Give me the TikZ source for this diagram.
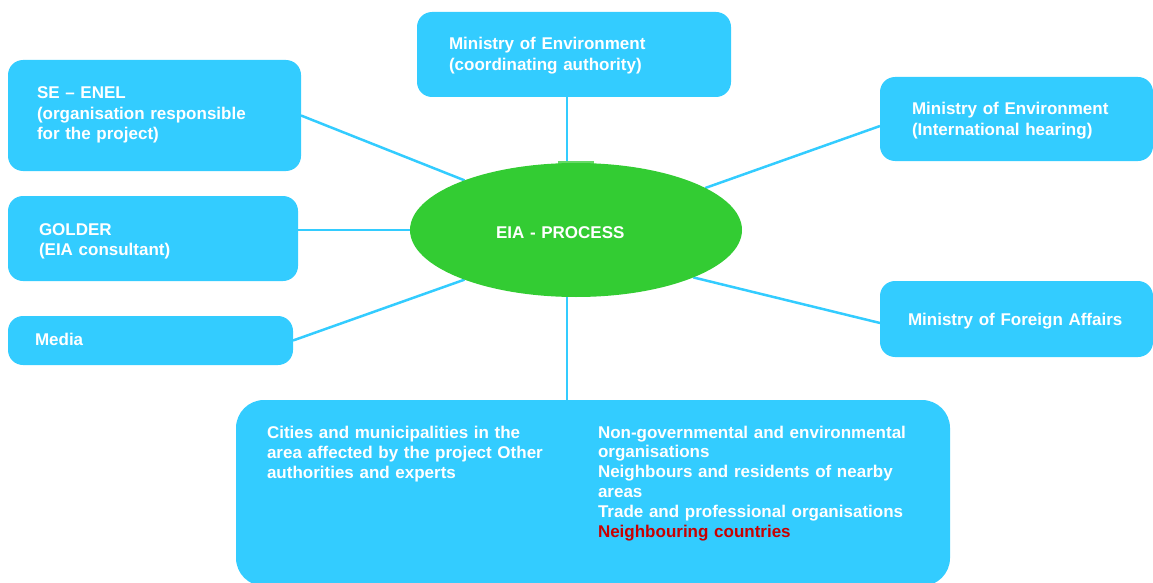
\documentclass[tikz,border=0pt]{standalone}
\usepackage{fontspec}
\setmainfont{Liberation Sans}
\usetikzlibrary{shapes.geometric,backgrounds,calc}
\definecolor{boxblue}{HTML}{33CCFF}
\definecolor{ellgreen}{HTML}{33CC33}
\definecolor{tabgreen}{HTML}{66D966}
\definecolor{txtred}{HTML}{C80000}
\tikzset{
  box/.style={fill=boxblue, draw=none, rounded corners=15pt, inner sep=0pt, outer sep=0pt, anchor=north west},
  lbl/.style={text=white, anchor=base west, inner sep=0pt, outer sep=0pt, text width=400pt, align=left,
    font=\fontsize{17}{20.5}\selectfont\bfseries},
  conn/.style={draw=boxblue, line width=2.5pt},
}
\begin{document}
\begin{tikzpicture}[x=1pt,y=-1pt]
\useasboundingbox (0,0) rectangle (1153,583);
% boxes
\node[box, minimum width=314pt, minimum height=85pt] (top) at (417,12) {};
\node[box, minimum width=293pt, minimum height=111pt] (seenel) at (8,60) {};
\node[box, minimum width=290pt, minimum height=85pt] (golder) at (8,196) {};
\node[box, minimum width=285pt, minimum height=49pt] (media) at (8,316) {};
\node[box, minimum width=273pt, minimum height=84pt] (inthear) at (880,77) {};
\node[box, minimum width=273pt, minimum height=76pt] (foreign) at (880,281) {};
\node[box, rounded corners=28pt, minimum width=714pt, minimum height=186pt] (bottom) at (236,400) {};
% centre
\node[fill=tabgreen, inner sep=0pt, minimum width=36pt, minimum height=6pt] (tab) at (576,164) {};
\node[ellipse, fill=ellgreen, inner sep=0pt, outer sep=0pt, minimum width=332pt, minimum height=134pt] (ell) at (576,230) {};
% connectors
\begin{pgfonlayer}{background}
\draw[conn] ([xshift=-7pt]top.south) -- ([xshift=-7pt]top.south |- ell.north);
\draw[conn] (seenel.east) -- (ell.156);
\draw[conn] (golder.east |- ell.center) -- (ell.center);
\draw[conn] (media.east) -- (ell.204);
\draw[conn] ($(inthear.west)+(0,7)$) -- (ell.18);
\draw[conn] ($(foreign.west)+(0,4)$) -- (ell.338);
\draw[conn] ([xshift=-26pt]bottom.north) -- ([xshift=-26pt]bottom.north |- ell.south);
\end{pgfonlayer}
% texts
\node[lbl] (ttop) at (449,50) {Ministry of Environment\\(coordinating authority)};
\node[lbl] (tseenel) at (37,99) {SE -- ENEL\\(organisation responsible\\for the project)};
\node[lbl] (tgolder) at (39,235) {GOLDER\\(EIA consultant)};
\node[lbl] (tmedia) at (35,345) {Media};
\node[lbl] (tinthear) at (912,115) {Ministry of Environment\\(International hearing)};
\node[lbl] (tforeign) at (908,325) {Ministry of Foreign Affairs};
\node[lbl, text width=200pt] (tell) at (496,238) {EIA - PROCESS};
\node[lbl, font=\fontsize{17}{20.3}\selectfont\bfseries] (tbl) at (267,438) {Cities and municipalities in the\\area affected by the project Other\\authorities and experts};
\node[lbl, font=\fontsize{17}{19.8}\selectfont\bfseries] (tbr) at (598,438) {Non-governmental and environmental\\organisations\\Neighbours and residents of nearby\\areas\\Trade and professional organisations\\\textcolor{txtred}{Neighbouring countries}};
\end{tikzpicture}
\end{document}
